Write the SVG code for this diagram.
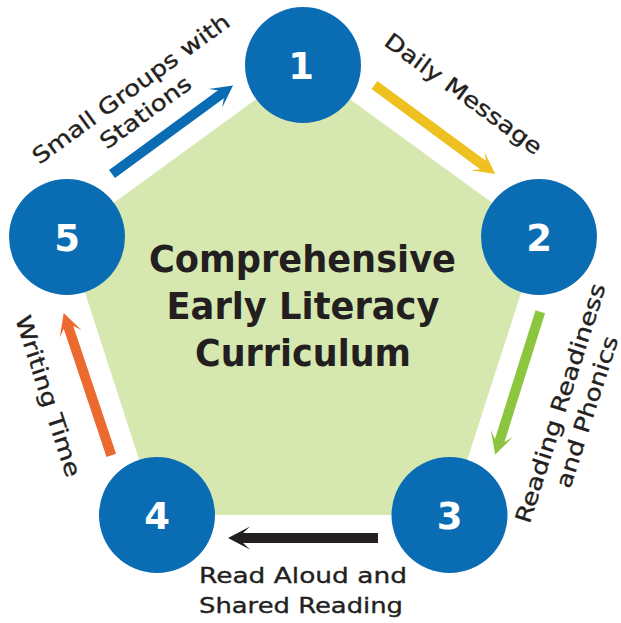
<svg xmlns="http://www.w3.org/2000/svg" width="621" height="623" viewBox="0 0 621 623">
<style>
.node circle{fill:#0a6db4}
.num{font-family:"DejaVu Sans",sans-serif;font-weight:bold;font-size:37px;fill:#ffffff;text-anchor:middle}
.title{font-family:"DejaVu Sans",sans-serif;font-weight:bold;font-size:38px;fill:#231f20;text-anchor:middle}
.lbl{font-family:"DejaVu Sans",sans-serif;font-size:22px;fill:#231f20;stroke:#231f20;stroke-width:0.35}
.mid{text-anchor:middle}
</style>
<defs>
<polygon id="arr" points="0,-5 135,-5 128,-11.5 150,0 128,11.5 135,5 0,5"/>
</defs>
<rect width="621" height="623" fill="#ffffff"/>
<g id="pentagon">
<polygon points="303,65 539,237 449.5,515 157,515 67,237" fill="#d6e8b0"/>
<text class="title" x="302.5" y="272" textLength="307" lengthAdjust="spacingAndGlyphs">Comprehensive</text>
<text class="title" x="303" y="319" textLength="273" lengthAdjust="spacingAndGlyphs">Early Literacy</text>
<text class="title" x="303" y="366" textLength="216" lengthAdjust="spacingAndGlyphs">Curriculum</text>
</g>
<g id="connectors">
<g id="c1-2">
<use href="#arr" fill="#efc120" transform="translate(374.5,85) rotate(36.4)"/>
<text class="lbl mid" transform="translate(459,100) rotate(36.1)" textLength="189" lengthAdjust="spacingAndGlyphs">Daily Message</text>
</g>
<g id="c2-3">
<use href="#arr" fill="#8cc63f" transform="translate(540.3,311.7) rotate(107.5)"/>
<text class="lbl mid" transform="translate(567.6,405.5) rotate(-72.2)" textLength="250" lengthAdjust="spacingAndGlyphs">Reading Readiness</text>
<text class="lbl mid" transform="translate(594.2,414.2) rotate(-72.2)" textLength="158" lengthAdjust="spacingAndGlyphs">and Phonics</text>
</g>
<g id="c3-4">
<use href="#arr" fill="#231f20" transform="translate(378,538) rotate(180)"/>
<text class="lbl" x="199" y="583" textLength="208" lengthAdjust="spacingAndGlyphs">Read Aloud and</text>
<text class="lbl" x="199" y="613" textLength="204" lengthAdjust="spacingAndGlyphs">Shared Reading</text>
</g>
<g id="c4-5">
<use href="#arr" fill="#ec6a2f" transform="translate(111.3,455.3) rotate(-108.5)"/>
<text class="lbl mid" transform="translate(40.9,398.5) rotate(72.1)" textLength="168" lengthAdjust="spacingAndGlyphs">Writing Time</text>
</g>
<g id="c5-1">
<use href="#arr" fill="#0a6db4" transform="translate(112,174) rotate(-36.2)"/>
<text class="lbl mid" transform="translate(135.5,95) rotate(-36.1)" textLength="238" lengthAdjust="spacingAndGlyphs">Small Groups with</text>
<text class="lbl mid" transform="translate(150,118.5) rotate(-36.1)" textLength="107" lengthAdjust="spacingAndGlyphs">Stations</text>
</g>
</g>
<g id="node1" class="node"><circle cx="303" cy="65" r="58"/><text class="num" x="301" y="78.5">1</text></g>
<g id="node2" class="node"><circle cx="539" cy="237" r="58"/><text class="num" x="539" y="250.5">2</text></g>
<g id="node3" class="node"><circle cx="449.5" cy="515" r="58"/><text class="num" x="449.5" y="528.5">3</text></g>
<g id="node4" class="node"><circle cx="157" cy="515" r="58"/><text class="num" x="157" y="528.5">4</text></g>
<g id="node5" class="node"><circle cx="67" cy="237" r="58"/><text class="num" x="67" y="250.5">5</text></g>
</svg>
